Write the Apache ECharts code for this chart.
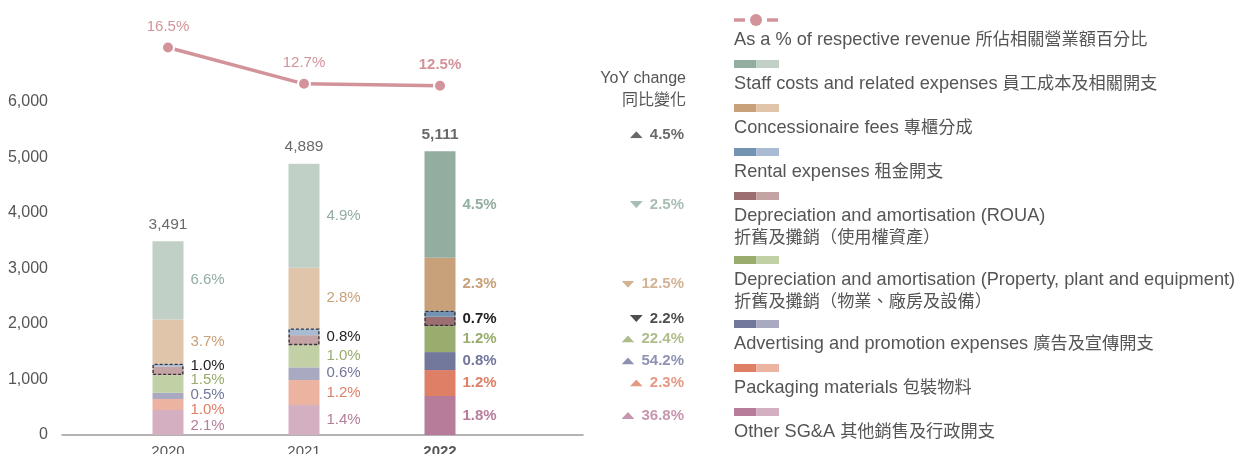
<!DOCTYPE html>
<html><head><meta charset="utf-8">
<script src="https://cdn.jsdelivr.net/npm/echarts@6/dist/echarts.min.js"></script>
<style>html,body{margin:0;padding:0;background:#fff}#c{width:1250px;height:454px}</style>
</head><body><div id="c"></div>
<script>
// ---------- data ----------
const years = ['2020', '2021', '2022'];
const otherSGA    = [450, 540, 702];
const packaging   = [198, 450, 468];
const advertising = [113, 229, 324];
const deprPPE     = [318, 400, 468];
const deprROUA    = [155, 180, 168];
const rental      = [50, 120, 108];
const concession  = [798, 1095, 954];
const staff       = [1409, 1875, 1919];
const totals      = [3491, 4889, 5111];
const revenuePct  = [16.5, 12.7, 12.5];

const otherPct   = ['2.1%', '1.4%', '1.8%'];
const packPct    = ['1.0%', '1.2%', '1.2%'];
const adPct      = ['0.5%', '0.6%', '0.8%'];
const ppePct     = ['1.5%', '1.0%', '1.2%'];
const rouaRentPct= ['1.0%', '0.8%', '0.7%'];
const concPct    = ['3.7%', '2.8%', '2.3%'];
const staffPct   = ['6.6%', '4.9%', '4.5%'];

// YoY change 2022 vs 2021
const yoyTotal = 4.5, yoyStaff = -2.5, yoyConc = -12.5, yoyRouaRent = -2.2,
      yoyPPE = 22.4, yoyAd = 54.2, yoyPack = 2.3, yoyOther = 36.8;

const legendNames = [
  'As a % of respective revenue 所佔相關營業額百分比',
  'Staff costs and related expenses 員工成本及相關開支',
  'Concessionaire fees 專櫃分成',
  'Rental expenses 租金開支',
  'Depreciation and amortisation (ROUA)\n折舊及攤銷（使用權資產）',
  'Depreciation and amortisation (Property, plant and equipment)\n折舊及攤銷（物業、廠房及設備）',
  'Advertising and promotion expenses 廣告及宣傳開支',
  'Packaging materials 包裝物料',
  'Other SG&A 其他銷售及行政開支'
];

// ---------- styles ----------
const FONT = "'Liberation Sans','Noto Sans CJK TC',sans-serif";
const TXT = '#555';
const LINE = '#d3939a';
const C = {
  other: ['#d4afc2', '#b67c9a'],
  pack:  ['#ecb3a0', '#df7f66'],
  ad:    ['#aaa9c2', '#72779c'],
  ppe:   ['#c2d0a6', '#98ad6e'],
  roua:  ['#c4a3a5', '#9b6e71'],
  rent:  ['#a9bad3', '#7393b3'],
  conc:  ['#e0c5aa', '#c8a07a'],
  staff: ['#c0d0c6', '#93ada0']
};
// label vertical nudges (layout only)
const nudge = { other: [3.5, 0, 0], pack: [5.5, 0, 0], ad: [-1.5, -1, 0], ppe: [-4, 0, 0] };

const segs = [
  { key: 'other', name: 'Other SG&A', data: otherSGA, pct: otherPct },
  { key: 'pack', name: 'Packaging materials', data: packaging, pct: packPct },
  { key: 'ad', name: 'Advertising and promotion expenses', data: advertising, pct: adPct },
  { key: 'ppe', name: 'Depreciation and amortisation (PPE)', data: deprPPE, pct: ppePct },
  { key: 'roua', name: 'Depreciation and amortisation (ROUA)', data: deprROUA, pct: null },
  { key: 'rent', name: 'Rental expenses', data: rental, pct: null },
  { key: 'conc', name: 'Concessionaire fees', data: concession, pct: concPct },
  { key: 'staff', name: 'Staff costs and related expenses', data: staff, pct: staffPct }
];

const BW = 31;
const series = [];
segs.forEach(s => {
  series.push({
    type: 'bar', name: s.name, stack: 'total', barWidth: BW, barGap: '-100%',
    silent: true, emphasis: { disabled: true },
    data: s.data.map((v, i) => ({
      value: v,
      itemStyle: { color: C[s.key][i === 2 ? 1 : 0] },
      label: s.pct ? {
        show: true, position: 'right', distance: 7,
        offset: [0, (nudge[s.key] || [0, 0, 0])[i]],
        formatter: s.pct[i], color: C[s.key][1],
        fontWeight: i === 2 ? 'bold' : 'normal', fontSize: 15, fontFamily: FONT
      } : { show: false }
    }))
  });
});
// dashed box around ROUA + rental
const boxBase = years.map((_, i) => otherSGA[i] + packaging[i] + advertising[i] + deprPPE[i]);
const boxVal = years.map((_, i) => deprROUA[i] + rental[i]);
series.push({
  type: 'bar', stack: 'box', barWidth: BW, barGap: '-100%', silent: true, z: 3,
  itemStyle: { color: 'transparent' }, data: boxBase, label: { show: false }
});
series.push({
  type: 'bar', stack: 'box', barWidth: BW, barGap: '-100%', silent: true, z: 3,
  itemStyle: { color: 'transparent', borderColor: '#333', borderWidth: 1.3, borderType: [3, 2] },
  data: boxVal.map((v, i) => ({
    value: v,
    label: {
      show: true, position: 'right', distance: 7, offset: [0, i === 0 ? -4 : 0],
      formatter: rouaRentPct[i], color: '#222', fontWeight: i === 2 ? 'bold' : 'normal',
      fontSize: 15, fontFamily: FONT
    }
  }))
});
// totals above bars
series.push({
  type: 'scatter', symbolSize: 0, silent: true,
  data: totals.map((v, i) => ({
    value: [years[i], v],
    label: {
      show: true, position: 'top', distance: 9, formatter: v.toLocaleString('en-US'),
      color: '#444', fontSize: 15.5, fontFamily: FONT, fontWeight: i === 2 ? 'bold' : 'normal'
    }
  }))
});
// % of revenue line
series.push({
  type: 'line', yAxisIndex: 1, data: revenuePct, clip: false, silent: true,
  symbol: 'circle', symbolSize: 12,
  lineStyle: { color: LINE, width: 3.5 },
  itemStyle: { color: LINE, borderColor: '#fff', borderWidth: 2 },
  label: {
    show: true, position: 'top', distance: 6, color: LINE, fontSize: 15, fontFamily: FONT,
    formatter: p => (p.dataIndex === 2 ? '{b|' + p.value + '%}' : p.value + '%'),
    rich: { b: { fontWeight: 'bold', color: LINE, fontSize: 15, fontFamily: FONT } }
  }
});
// YoY change column (aligned with 2022 segments)
function triImg(color, up) {
  const pts = up ? '0,7 6.5,0 13,7' : '0,0 6.5,7 13,0';
  const svg = '<svg xmlns="http://www.w3.org/2000/svg" width="13" height="7" viewBox="0 0 13 7"><polygon points="' + pts + '" fill="' + color + '"/></svg>';
  return 'data:image/svg+xml;charset=utf-8,' + encodeURIComponent(svg);
}
const j = 2;
const cum = [];
let acc = 0;
[otherSGA, packaging, advertising, deprPPE, deprROUA, rental, concession, staff].forEach(a => { cum.push([acc, acc + a[j]]); acc += a[j]; });
const mid = k => (cum[k][0] + cum[k][1]) / 2;
const yoyRows = [
  { y: totals[j], v: yoyTotal, c: '#444', dy: -16.5 },
  { y: mid(7), v: yoyStaff, c: C.staff[1] },
  { y: mid(6), v: yoyConc, c: C.conc[1] },
  { y: (cum[4][0] + cum[5][1]) / 2, v: yoyRouaRent, c: '#222' },
  { y: mid(3), v: yoyPPE, c: C.ppe[1] },
  { y: mid(2), v: yoyAd, c: C.ad[1] },
  { y: mid(1), v: yoyPack, c: C.pack[1] },
  { y: mid(0), v: yoyOther, c: C.other[1] }
];
series.push({
  type: 'scatter', symbolSize: 0, silent: true,
  data: yoyRows.map(r => ({
    value: [years[j], r.y],
    label: {
      show: true, position: 'right', distance: 0, offset: [244, r.dy || 0], align: 'right',
      formatter: '{t|}{g|}{v|' + Math.abs(r.v).toFixed(1) + '%}',
      rich: {
        t: { width: 13, height: 7, backgroundColor: { image: triImg(r.c, r.v >= 0) } },
        g: { width: 7 },
        v: { fontSize: 15, fontWeight: 'bold', color: r.c, fontFamily: FONT }
      }
    }
  }))
});

// ---------- legend (custom graphic) ----------
const graphic = [];
graphic.push({ type: 'text', x: 686, y: 79, style: { text: 'YoY change', fontSize: 16, fontFamily: FONT, fill: TXT, align: 'right', verticalAlign: 'middle' } });
graphic.push({ type: 'text', x: 686, y: 101, style: { text: '同比變化', fontSize: 16, fontFamily: FONT, fill: TXT, align: 'right', verticalAlign: 'middle' } });
const legColors = [null, C.staff, C.conc, C.rent, C.roua, C.ppe, C.ad, C.pack, C.other];
function richify(line) {
  return line.replace(/([\x00-\x7f]+)|([^\x00-\x7f]+)/g, (m, a, b) => (a ? '{e|' + a + '}' : '{c|' + b + '}'));
}
const legRich = {
  e: { fontSize: 18.2, fontFamily: FONT, fill: TXT, lineHeight: 22 },
  c: { fontSize: 17.2, fontFamily: FONT, fill: TXT, lineHeight: 22 }
};
let ly = 20;
const LX = 734;
legendNames.forEach((name, i) => {
  if (i === 0) {
    graphic.push({ type: 'line', shape: { x1: LX, y1: ly, x2: LX + 11, y2: ly }, style: { stroke: LINE, lineWidth: 3.5 } });
    graphic.push({ type: 'circle', shape: { cx: LX + 22, cy: ly, r: 6 }, style: { fill: LINE } });
    graphic.push({ type: 'line', shape: { x1: LX + 33, y1: ly, x2: LX + 44, y2: ly }, style: { stroke: LINE, lineWidth: 3.5 } });
  } else {
    graphic.push({ type: 'rect', shape: { x: LX, y: ly - 4, width: 22.5, height: 8 }, style: { fill: legColors[i][1] } });
    graphic.push({ type: 'rect', shape: { x: LX + 22.5, y: ly - 4, width: 22.5, height: 8 }, style: { fill: legColors[i][0] } });
  }
  const lines = name.split('\n');
  graphic.push({ type: 'text', x: LX, y: ly + 9, style: { text: lines.map(richify).join('\n'), rich: legRich, fontSize: 18, fontFamily: FONT, fill: TXT, lineHeight: 22, align: 'left', verticalAlign: 'top' } });
  ly += 44 + (lines.length - 1) * 20;
});

const chart = echarts.init(document.getElementById('c'), null, { renderer: 'canvas' });
chart.setOption({
  animation: false,
  textStyle: { fontFamily: FONT },
  grid: [
    { left: 100, width: 408, top: 46.5, bottom: 19, outerBoundsMode: 'none', containLabel: false },
    { left: 62, width: 521, top: 46.5, bottom: 19, outerBoundsMode: 'none', containLabel: false }
  ],
  xAxis: [
    {
      type: 'category', data: years, gridIndex: 0,
      axisLine: { show: false }, axisTick: { show: false },
      axisLabel: {
        margin: 9, fontSize: 15, color: TXT, fontFamily: FONT,
        formatter: v => (v === '2022' ? '{b|' + v + '}' : v),
        rich: { b: { fontWeight: 'bold', fontSize: 15, color: TXT, fontFamily: FONT } }
      }
    },
    {
      type: 'value', gridIndex: 1, min: 0, max: 1,
      axisLine: { show: true, lineStyle: { color: '#9a9a9a', width: 1.5 } },
      axisTick: { show: false }, axisLabel: { show: false }, splitLine: { show: false }
    }
  ],
  yAxis: [
    {
      type: 'value', gridIndex: 0, min: 0, max: 7000, interval: 1000,
      axisLine: { show: false }, axisTick: { show: false }, splitLine: { show: false },
      axisLabel: {
        margin: 52, fontSize: 16, color: TXT, fontFamily: FONT,
        formatter: v => (v >= 7000 ? '' : v.toLocaleString('en-US'))
      }
    },
    { type: 'value', gridIndex: 0, min: -24, max: 16.6, show: false },
    { type: 'value', gridIndex: 1, show: false }
  ],
  series: series,
  graphic: graphic
});
</script>
</body></html>
